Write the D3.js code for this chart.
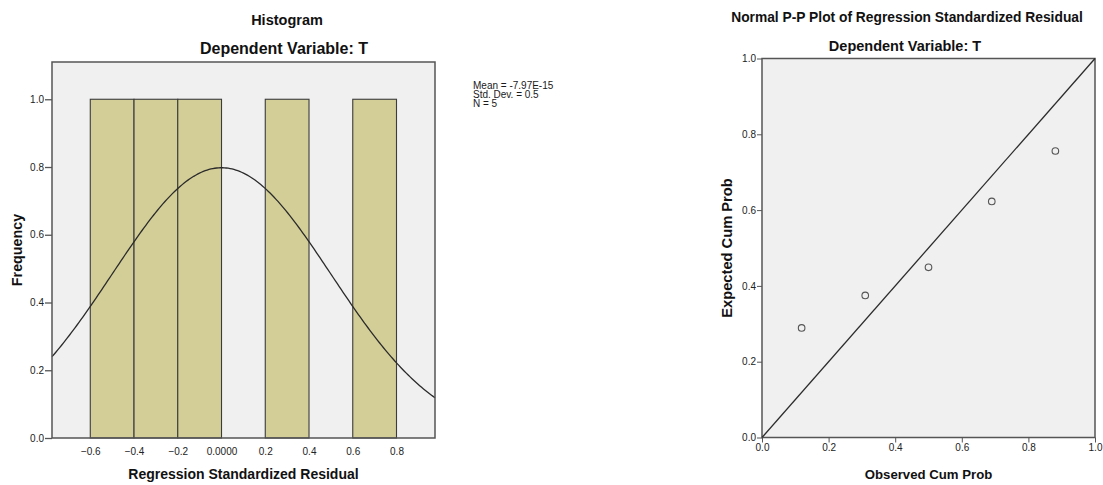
<!DOCTYPE html>
<html>
<head>
<meta charset="utf-8">
<script src="https://cdn.jsdelivr.net/npm/d3@7"></script>
<style>
  body { margin: 0; background: #fff; }
  svg { display: block; font-family: "Liberation Sans", Arial, sans-serif; }
  .tick text { font-size: 10px; fill: #222; }
  .tick line, .domain { stroke: #555; }
</style>
</head>
<body>
<svg id="chart" width="1103" height="485"></svg>
<script>
// histogram bins (lower, upper, frequency)
const binLower = [-0.6, -0.4, -0.2, 0.2, 0.6];
const binUpper = [-0.4, -0.2, 0.0, 0.4, 0.8];
const binFreq  = [1, 1, 1, 1, 1];
const histXTicks = [-0.6, -0.4, -0.2, 0.0, 0.2, 0.4, 0.6, 0.8];
const histYTicks = [0.0, 0.2, 0.4, 0.6, 0.8, 1.0];
const statMean = -7.97e-15, statSd = 0.5, statN = 5, binWidth = 0.2;
const statLines = ['Mean = -7.97E-15', 'Std. Dev. = 0.5', 'N = 5'];

// P-P plot points
const observedCum = [0.119, 0.310, 0.500, 0.690, 0.881];
const expectedCum = [0.289, 0.375, 0.449, 0.623, 0.756];
const ppTicks = [0.0, 0.2, 0.4, 0.6, 0.8, 1.0];

const svg = d3.select('#chart');
const frameColor = '#555';
const bg = '#f0f0f0';

// ---------- histogram ----------
const hx = d3.scaleLinear().domain([-0.775, 0.976]).range([52, 435]);
const hy = d3.scaleLinear().domain([0, 1.11]).range([438, 62]);

svg.append('rect')
    .attr('x', hx.range()[0]).attr('y', hy.range()[1])
    .attr('width', hx.range()[1] - hx.range()[0])
    .attr('height', hy.range()[0] - hy.range()[1])
    .attr('fill', bg);

const bins = binLower.map((lo, i) => ({ lo, hi: binUpper[i], f: binFreq[i] }));
svg.append('g').selectAll('rect').data(bins).enter().append('rect')
    .attr('x', d => hx(d.lo))
    .attr('y', d => hy(d.f))
    .attr('width', d => hx(d.hi) - hx(d.lo))
    .attr('height', d => hy(0) - hy(d.f))
    .attr('fill', '#d3ce97')
    .attr('stroke', '#3c3c3c')
    .attr('stroke-width', 1.1);

// fitted normal curve from the stated mean / sd
const density = x => statN * binWidth * Math.exp(-0.5 * Math.pow((x - statMean) / statSd, 2)) / (statSd * Math.sqrt(2 * Math.PI));
const curveXs = d3.range(0, 201).map(i => hx.domain()[0] + i * (hx.domain()[1] - hx.domain()[0]) / 200);
svg.append('path').datum(curveXs)
    .attr('fill', 'none').attr('stroke', '#2b2b2b').attr('stroke-width', 1.3)
    .attr('d', d3.line().x(d => hx(d)).y(d => hy(density(d))));

svg.append('rect')
    .attr('x', hx.range()[0]).attr('y', hy.range()[1])
    .attr('width', hx.range()[1] - hx.range()[0])
    .attr('height', hy.range()[0] - hy.range()[1])
    .attr('fill', 'none').attr('stroke', frameColor).attr('stroke-width', 1.5);

svg.append('g')
    .attr('transform', `translate(0,${hy(0)})`)
    .call(d3.axisBottom(hx).tickValues(histXTicks).tickSize(0).tickPadding(10)
        .tickFormat(d => d === 0 ? '0.0000' : d3.format('.1f')(d)))
    .call(g => g.select('.domain').remove());

svg.append('g')
    .attr('transform', `translate(${hx.range()[0]},0)`)
    .call(d3.axisLeft(hy).tickValues(histYTicks).tickSize(7).tickPadding(1).tickFormat(d3.format('.1f')))
    .call(g => g.select('.domain').remove())
    .call(g => g.selectAll('.tick line').attr('stroke-width', 1.3));

svg.append('text').attr('x', 287).attr('y', 25).attr('text-anchor', 'middle')
    .attr('font-size', 14.5).attr('font-weight', 'bold').attr('fill', '#111').text('Histogram');
svg.append('text').attr('x', 284).attr('y', 54).attr('text-anchor', 'middle')
    .attr('font-size', 16).attr('font-weight', 'bold').attr('fill', '#111').text('Dependent Variable: T');
svg.append('text').attr('x', (hx.range()[0] + hx.range()[1]) / 2).attr('y', 479).attr('text-anchor', 'middle')
    .attr('font-size', 14).attr('font-weight', 'bold').attr('fill', '#111').text('Regression Standardized Residual');
svg.append('text')
    .attr('transform', `translate(22,${(hy.range()[0] + hy.range()[1]) / 2}) rotate(-90)`)
    .attr('text-anchor', 'middle')
    .attr('font-size', 14.3).attr('font-weight', 'bold').attr('fill', '#111').text('Frequency');

svg.append('g').selectAll('text').data(statLines).enter().append('text')
    .attr('x', 473).attr('y', (d, i) => 88.5 + i * 9.2)
    .attr('font-size', 10).attr('fill', '#1a1a1a').text(d => d);

// ---------- P-P plot ----------
const px = d3.scaleLinear().domain([0, 1]).range([762, 1095]);
const py = d3.scaleLinear().domain([0, 1]).range([437.5, 58.5]);

svg.append('rect')
    .attr('x', px(0)).attr('y', py(1))
    .attr('width', px(1) - px(0)).attr('height', py(0) - py(1))
    .attr('fill', bg).attr('stroke', frameColor).attr('stroke-width', 1.5);

svg.append('line')
    .attr('x1', px(0)).attr('y1', py(0)).attr('x2', px(1)).attr('y2', py(1))
    .attr('stroke', '#2b2b2b').attr('stroke-width', 1.3);

svg.append('g').selectAll('circle').data(observedCum).enter().append('circle')
    .attr('cx', d => px(d))
    .attr('cy', (d, i) => py(expectedCum[i]))
    .attr('r', 3.3)
    .attr('fill', 'none').attr('stroke', '#555').attr('stroke-width', 1.1);

svg.append('g')
    .attr('transform', `translate(0,${py(0)})`)
    .call(d3.axisBottom(px).tickValues(ppTicks).tickSize(5).tickPadding(1).tickFormat(d3.format('.1f')))
    .call(g => g.select('.domain').remove());

svg.append('g')
    .attr('transform', `translate(${px(0)},0)`)
    .call(d3.axisLeft(py).tickValues(ppTicks).tickSize(5).tickPadding(1).tickFormat(d3.format('.1f')))
    .call(g => g.select('.domain').remove());

svg.append('text').attr('x', 907).attr('y', 22).attr('text-anchor', 'middle')
    .attr('font-size', 13.8).attr('font-weight', 'bold').attr('fill', '#111')
    .text('Normal P-P Plot of Regression Standardized Residual');
svg.append('text').attr('x', 905).attr('y', 51).attr('text-anchor', 'middle')
    .attr('font-size', 14.5).attr('font-weight', 'bold').attr('fill', '#111').text('Dependent Variable: T');
svg.append('text').attr('x', (px(0) + px(1)) / 2).attr('y', 479).attr('text-anchor', 'middle')
    .attr('font-size', 13.2).attr('font-weight', 'bold').attr('fill', '#111').text('Observed Cum Prob');
svg.append('text')
    .attr('transform', `translate(732,${(py(0) + py(1)) / 2}) rotate(-90)`)
    .attr('text-anchor', 'middle')
    .attr('font-size', 14.7).attr('font-weight', 'bold').attr('fill', '#111').text('Expected Cum Prob');
</script>
</body>
</html>
